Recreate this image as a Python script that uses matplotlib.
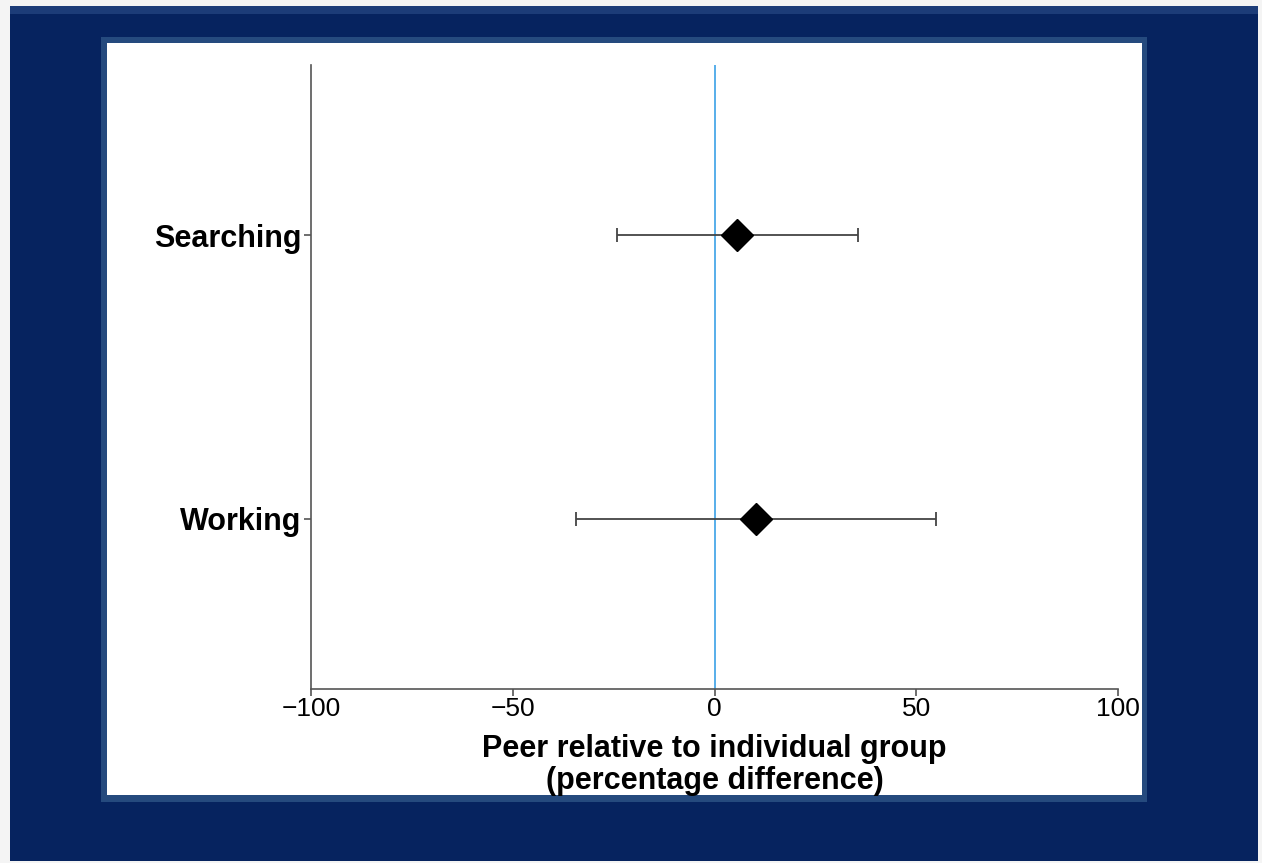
import matplotlib.pyplot as plt
from matplotlib.patches import Rectangle

# data
groups = ["Working", "Searching"]
estimates = [10.3, 5.7]
lower = [-34.4, -24.2]
upper = [54.9, 35.6]
xticks = [-100, -50, 0, 50, 100]

W, H = 1262, 863
fig = plt.figure(figsize=(W / 100, H / 100), dpi=100)
fig.patch.set_facecolor("#f4f4f4")


def px_rect(x0, y0, x1, y1, color, z):
    # rectangle given in pixel coords (top-left origin)
    fig.patches.append(Rectangle((x0 / W, 1 - y1 / H), (x1 - x0) / W, (y1 - y0) / H,
                                 transform=fig.transFigure, facecolor=color,
                                 edgecolor="none", zorder=z))


# slide frame
px_rect(10, 6, 1258, 861, "#06235f", 0)
px_rect(10, 6, 1258, 14, "#1c3c78", 0.5)
px_rect(101, 37, 1147, 802, "#254a7e", 1)
px_rect(107, 43, 1142, 795, "white", 2)

ax = fig.add_axes([311 / W, 1 - 689 / H, (1118 - 311) / W, (689 - 65) / H])
ax.set_facecolor("none")
ax.set_zorder(3)

ypos = list(range(1, len(groups) + 1))
xerr = [[e - l for e, l in zip(estimates, lower)], [u - e for e, u in zip(estimates, upper)]]
ax.axvline(0, color="#4aa8e8", lw=1.3, zorder=1)
ax.errorbar(estimates, ypos, xerr=xerr, fmt="D", color="black", ms=16,
            ecolor="#444444", elinewidth=1.3, capsize=5, capthick=1.3, zorder=2)

ax.set_xlim(-100, 100)
ax.set_ylim(0.4, 2.6)
ax.set_xticks(xticks)
ax.set_xticklabels(["\u2212100", "\u221250", "0", "50", "100"], fontsize=19,
                   family="Liberation Sans")
ax.set_yticks(ypos)
ax.set_yticklabels(groups, fontsize=22, fontweight="bold", family="Liberation Sans")
ax.tick_params(axis="both", length=5, width=1.2, color="#555555", pad=1)
ax.tick_params(axis="y", pad=2)

for side in ["top", "right"]:
    ax.spines[side].set_visible(False)
for side in ["left", "bottom"]:
    ax.spines[side].set_color("#555555")
    ax.spines[side].set_linewidth(1.2)

ax.set_xlabel("Peer relative to individual group\n(percentage difference)", fontsize=22,
              fontweight="bold", family="Liberation Sans", labelpad=9, linespacing=1.1)

fig.savefig("out.png", dpi=100, facecolor=fig.get_facecolor())
